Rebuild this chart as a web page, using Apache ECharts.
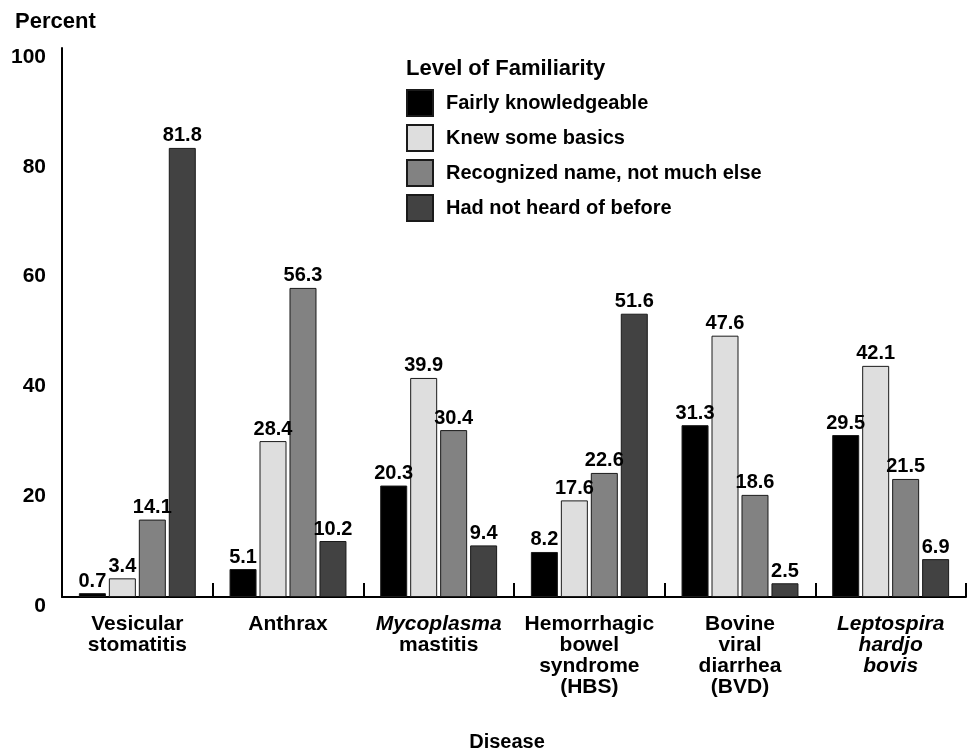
<!DOCTYPE html>
<html>
<head>
<meta charset="utf-8">
<script src="https://cdn.jsdelivr.net/npm/echarts@6/dist/echarts.min.js"></script>
<style>html,body{margin:0;padding:0;background:#fff;}#c{width:974px;height:751px;}</style>
</head>
<body>
<div id="c"></div>
<script>
var categories = ['Vesicular\nstomatitis', 'Anthrax', '{i|Mycoplasma}\nmastitis', 'Hemorrhagic\nbowel\nsyndrome\n(HBS)', 'Bovine\nviral\ndiarrhea\n(BVD)', '{i|Leptospira}\n{i|hardjo}\n{i|bovis}'];
var seriesNames = ['Fairly knowledgeable', 'Knew some basics', 'Recognized name, not much else', 'Had not heard of before'];
var fairly = [0.7, 5.1, 20.3, 8.2, 31.3, 29.5];
var basics = [3.4, 28.4, 39.9, 17.6, 47.6, 42.1];
var recognized = [14.1, 56.3, 30.4, 22.6, 18.6, 21.5];
var notHeard = [81.8, 10.2, 9.4, 51.6, 2.5, 6.9];
var yTicks = [0, 20, 40, 60, 80, 100];

var colors = ['#000000', '#dedede', '#828282', '#424242'];
var dataSets = [fairly, basics, recognized, notHeard];
var FONT = 'Liberation Sans, Arial, Helvetica, sans-serif';

var chart = echarts.init(document.getElementById('c'), null, {renderer: 'canvas'});
var series = dataSets.map(function (d, i) {
  return {
    name: seriesNames[i],
    type: 'bar',
    data: d,
    barWidth: 27,
    barGap: '11%',
    itemStyle: {color: colors[i], borderColor: '#1a1a1a', borderWidth: 1},
    label: {
      show: true, position: 'top', distance: 2,
      color: '#000', fontFamily: FONT, fontWeight: 'bold', fontSize: 20
    },
    emphasis: {disabled: true}
  };
});

chart.setOption({
  animation: false,
  backgroundColor: '#fff',
  textStyle: {fontFamily: FONT},
  grid: {left: 62, right: 8, top: 48, bottom: 154, containLabel: false, outerBoundsMode: 'none'},
  graphic: [
    {type: 'text', left: 15, top: 11, style: {text: 'Percent', font: 'bold 22px ' + FONT, fill: '#000'}},
    {type: 'text', left: 406, top: 58, style: {text: 'Level of Familiarity', font: 'bold 22px ' + FONT, fill: '#000'}}
  ],
  legend: {
    orient: 'vertical',
    left: 406,
    top: 89,
    padding: 0,
    itemWidth: 26,
    itemHeight: 26,
    itemGap: 7,
    icon: 'rect',
    selectedMode: false,
    textStyle: {fontFamily: FONT, fontWeight: 'bold', fontSize: 20, color: '#000', padding: [0, 0, 0, 8]},
    data: seriesNames
  },
  xAxis: {
    type: 'category',
    data: categories,
    name: 'Disease',
    nameLocation: 'middle',
    nameGap: 135,
    nameTextStyle: {fontFamily: FONT, fontWeight: 'bold', fontSize: 20, color: '#000', padding: [0, 14, 0, 0]},
    axisLine: {lineStyle: {color: '#000', width: 2}},
    axisTick: {show: true, inside: true, length: 14, lineStyle: {color: '#000', width: 2}},
    axisLabel: {
      interval: 0,
      margin: 17,
      color: '#000',
      fontFamily: FONT,
      fontWeight: 'bold',
      fontSize: 21,
      lineHeight: 21,
      align: 'center',
      rich: {
        i: {fontStyle: 'italic', fontWeight: 'bold', fontSize: 21, lineHeight: 21, fontFamily: FONT, color: '#000'}
      }
    }
  },
  yAxis: {
    type: 'value',
    min: 0,
    max: 100,
    interval: 20,
    axisLine: {show: true, lineStyle: {color: '#000', width: 2}},
    axisTick: {show: false},
    splitLine: {show: false},
    axisLabel: {
      margin: 16,
      color: '#000',
      fontFamily: FONT,
      fontWeight: 'bold',
      fontSize: 21,
      verticalAlign: 'top',
      lineHeight: 18,
      formatter: function (v) { return yTicks.indexOf(v) >= 0 ? String(v) : ''; }
    }
  },
  series: series
});
</script>
</body>
</html>
